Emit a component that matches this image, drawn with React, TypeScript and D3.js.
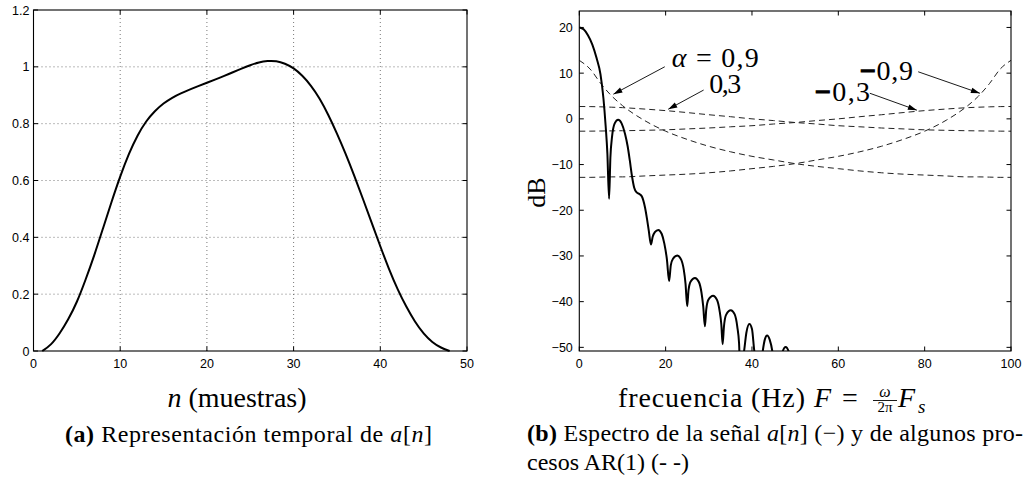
import React from "react";
import * as d3 from "d3";

// (a) a[n]
const nSamples = [1, 2, 3, 4, 5, 6, 7, 8, 9, 10, 11, 12, 13, 14, 15, 16, 17, 18, 19, 20, 21, 22, 23, 24,
  25, 26, 27, 28, 29, 30, 31, 32, 33, 34, 35, 36, 37, 38, 39, 40, 41, 42, 43, 44, 45, 46, 47, 48];
const aValues = [0, 0.02, 0.06, 0.11, 0.17, 0.25, 0.335, 0.43, 0.525, 0.615, 0.695, 0.76, 0.81, 0.845,
  0.872, 0.892, 0.907, 0.92, 0.932, 0.944, 0.956, 0.968, 0.981, 0.994, 1.006, 1.016, 1.021, 1.021,
  1.012, 0.996, 0.97, 0.935, 0.89, 0.832, 0.766, 0.695, 0.617, 0.535, 0.452, 0.368, 0.288, 0.216,
  0.155, 0.102, 0.06, 0.03, 0.011, 0];

// (b) espectro de a[n] en dB
const specFreq = [0, 1, 2, 3, 4, 4.9, 5.6, 6.1, 6.5, 6.9, 7.2, 7.6, 8.2, 9.0, 9.8, 10.6, 11.2, 11.7,
  12.2, 12.7, 13.3, 14.0, 14.5, 15.2, 15.7, 16.1, 16.6, 17.0, 17.5, 18.3, 19.1, 19.7, 20.3, 20.8,
  21.2, 21.7, 22.7, 23.6, 24.2, 24.6, 25.0, 25.3, 25.8, 26.8, 27.7, 28.3, 28.7, 29.1, 29.4, 29.9,
  31.0, 31.9, 32.5, 32.9, 33.2, 33.5, 34.0, 35.1, 36.0, 36.6, 37.0, 37.35, 37.8, 38.2, 38.7, 39.4,
  40.0, 40.5, 41.0, 41.5, 42.0, 42.5, 43.0, 43.5, 44.1, 44.7, 45.2, 45.7, 46.4, 47.1, 47.8, 48.5,
  49.2, 49.9];
const specDb = [20.0, 19.6, 18.3, 16.3, 13.3, 9.8, 4.4, -1.5, -7.5, -17.5, -8.5, -3.8, -1.0, -0.2,
  -1.0, -3.3, -6.0, -9.1, -12.5, -15.0, -16.1, -16.5, -17.0, -19.3, -22.0, -24.5, -27.5, -25.8,
  -24.8, -24.3, -25.2, -27.3, -30.8, -35.5, -32.0, -30.6, -29.9, -30.8, -33.0, -36.0, -41.0, -37.5,
  -35.6, -34.8, -35.7, -38.0, -41.0, -45.4, -41.8, -39.6, -38.7, -39.6, -42.0, -45.0, -49.3, -45.5,
  -42.9, -41.9, -42.8, -45.5, -49.0, -57.0, -53.0, -50.6, -46.8, -44.9, -46.0, -50.5, -54.0, -60.0,
  -55.0, -50.8, -48.2, -47.4, -48.3, -50.8, -55.0, -62.0, -55.0, -50.9, -49.9, -50.9, -55.0, -63.0];

// procesos AR(1) en dB
const arFreq = [0, 2.5, 5, 7.5, 10, 15, 20, 25, 30, 35, 40, 45, 50, 55, 60, 65, 70, 75, 80, 85, 90,
  92.5, 95, 97.5, 100];
const arPos09 = [12.8, 10.9, 7.7, 5.0, 2.9, -0.3, -2.7, -4.5, -6.0, -7.2, -8.2, -9.0, -9.8, -10.4,
  -10.9, -11.4, -11.8, -12.1, -12.3, -12.5, -12.7, -12.7, -12.75, -12.8, -12.8];
const arNeg09 = [-12.8, -12.8, -12.75, -12.7, -12.7, -12.5, -12.3, -12.1, -11.8, -11.4, -10.9, -10.4,
  -9.8, -9.0, -8.2, -7.2, -6.0, -4.5, -2.7, -0.3, 2.9, 5.0, 7.7, 10.9, 12.8];
const arPos03 = [2.7, 2.68, 2.63, 2.55, 2.45, 2.15, 1.8, 1.37, 0.9, 0.47, 0.0, -0.38, -0.8, -1.13,
  -1.5, -1.74, -2.0, -2.2, -2.4, -2.51, -2.6, -2.63, -2.66, -2.69, -2.7];
const arNeg03 = [-2.7, -2.69, -2.66, -2.63, -2.6, -2.51, -2.4, -2.2, -2.0, -1.74, -1.5, -1.13, -0.8,
  -0.38, 0.0, 0.47, 0.9, 1.37, 1.8, 2.15, 2.45, 2.55, 2.63, 2.68, 2.7];

// ticks
const leftXTicks = [0, 10, 20, 30, 40, 50];
const leftYTicks = [0, 0.2, 0.4, 0.6, 0.8, 1, 1.2];
const leftYLabels = ["0", "0.2", "0.4", "0.6", "0.8", "1", "1.2"];
const rightXTicks = [0, 20, 40, 60, 80, 100];
const rightYTicks = [-50, -40, -30, -20, -10, 0, 10, 20];

// anotaciones (coordenadas de datos)
const annHeadF = [7.9, 20.6, 92.8, 78.2];
const annHeadDb = [5.4, 2.1, 5.6, 1.9];
const annTailF = [19.8, 28.8, 78.5, 67.3];
const annTailDb = [11.4, 6.3, 10.3, 5.6];
const annTextF = [21.4, 30.1, 65.0, 54.6];
const annTextDb = [11.4, 5.6, 8.6, 3.9];

const serif = "'Liberation Serif', 'Times New Roman', serif";
const sans = "'Liberation Sans', Arial, Helvetica, sans-serif";

const arrowHead = (x1: number, y1: number, x2: number, y2: number) => {
  const a = Math.atan2(y2 - y1, x2 - x1);
  const len = 9, hw = 2.8;
  const bx = x2 - len * Math.cos(a), by = y2 - len * Math.sin(a);
  const px = -Math.sin(a) * hw, py = Math.cos(a) * hw;
  return `${x2},${y2} ${bx + px},${by + py} ${bx - px},${by - py}`;
};

export default function App() {
  const W = 1033, H = 477;

  const xL = d3.scaleLinear().domain([0, 50]).range([33.5, 467]);
  const yL = d3.scaleLinear().domain([0, 1.2]).range([351, 10]);
  const xR = d3.scaleLinear().domain([0, 100]).range([579.3, 1011]);
  const yR = d3.scaleLinear().domain([-50.8, 23.6]).range([351, 11]);

  const tick = 4.5;

  const aLine = d3.line<number>()
    .x((_, i) => xL(nSamples[i]))
    .y((d) => yL(d))
    .curve(d3.curveBasis);

  const specLine = d3.line<number>()
    .x((_, i) => xR(specFreq[i]))
    .y((d) => yR(d))
    .curve(d3.curveMonotoneX);

  const arLine = d3.line<number>()
    .x((_, i) => xR(arFreq[i]))
    .y((d) => yR(d))
    .curve(d3.curveMonotoneX);

  const [lx0, lx1] = xL.range();
  const [ly1, ly0] = yL.range();
  const [rx0, rx1] = xR.range();
  const [ry1, ry0] = yR.range();

  const annLabels = [
    <><tspan fontStyle="italic">α</tspan> = 0,9</>,
    <>0,3</>,
    <><tspan fontWeight="bold" stroke="#000" strokeWidth={1.2}>−</tspan>0,9</>,
    <><tspan fontWeight="bold" stroke="#000" strokeWidth={1.2}>−</tspan>0,3</>,
  ];
  const annWidths = [87, 32, 53, 55];

  return (
    <svg width={W} height={H} style={{ position: "absolute", left: 0, top: 0, background: "#fff" }}>
      <defs>
        <clipPath id="clipR">
          <rect x={rx0} y={ry0} width={rx1 - rx0} height={ry1 - ry0} />
        </clipPath>
      </defs>

      {/* ---------- (a) ---------- */}
      <g>
        {leftXTicks.slice(1, -1).map((t) => (
          <line key={"gx" + t} x1={xL(t)} x2={xL(t)} y1={ly0} y2={ly1}
            stroke="#555" strokeWidth={0.8} strokeDasharray="1,3" />
        ))}
        {leftYTicks.slice(1, -1).map((t) => (
          <line key={"gy" + t} x1={lx0} x2={lx1} y1={yL(t)} y2={yL(t)}
            stroke="#555" strokeWidth={0.8} strokeDasharray="1,3" />
        ))}
        {leftXTicks.map((t) => (
          <g key={"tx" + t}>
            <line x1={xL(t)} x2={xL(t)} y1={ly1} y2={ly1 - tick} stroke="#000" />
            <line x1={xL(t)} x2={xL(t)} y1={ly0} y2={ly0 + tick} stroke="#000" />
            <text x={xL(t)} y={368} textAnchor="middle" fontFamily={sans} fontSize={12.5}>{t}</text>
          </g>
        ))}
        {leftYTicks.map((t, i) => (
          <g key={"ty" + t}>
            <line x1={lx0} x2={lx0 + tick} y1={yL(t)} y2={yL(t)} stroke="#000" />
            <line x1={lx1} x2={lx1 - tick} y1={yL(t)} y2={yL(t)} stroke="#000" />
            <text x={lx0 - 4} y={yL(t)} dy="0.36em" textAnchor="end" fontFamily={sans} fontSize={12.5}>
              {leftYLabels[i]}
            </text>
          </g>
        ))}
        <path d={aLine(aValues) || ""} fill="none" stroke="#000" strokeWidth={2} />
        <rect x={lx0} y={ly0} width={lx1 - lx0} height={ly1 - ly0} fill="none" stroke="#000" strokeWidth={1.1} />

        <text x={237} y={406.5} textAnchor="middle" fontFamily={serif} fontSize={28}>
          <tspan fontStyle="italic">n</tspan> (muestras)
        </text>
        <text x={65} y={441.5} fontFamily={serif} fontSize={24} textLength={367} lengthAdjust="spacing">
          <tspan fontWeight="bold">(a)</tspan> Representación temporal de <tspan fontStyle="italic">a</tspan>[<tspan fontStyle="italic">n</tspan>]
        </text>
      </g>

      {/* ---------- (b) ---------- */}
      <g>
        {rightXTicks.map((t) => (
          <g key={"rx" + t}>
            <line x1={xR(t)} x2={xR(t)} y1={ry1} y2={ry1 - tick} stroke="#000" />
            <line x1={xR(t)} x2={xR(t)} y1={ry0} y2={ry0 + tick} stroke="#000" />
            <text x={xR(t)} y={368} textAnchor="middle" fontFamily={sans} fontSize={12.5}>{t}</text>
          </g>
        ))}
        {rightYTicks.map((t) => (
          <g key={"ry" + t}>
            <line x1={rx0} x2={rx0 + tick} y1={yR(t)} y2={yR(t)} stroke="#000" />
            <line x1={rx1} x2={rx1 - tick} y1={yR(t)} y2={yR(t)} stroke="#000" />
            <text x={rx0 - 6.5} y={yR(t)} dy="0.36em" textAnchor="end" fontFamily={sans} fontSize={12.5}>
              {String(t).replace("-", "\u2212")}
            </text>
          </g>
        ))}
        <g clipPath="url(#clipR)">
          {[arPos09, arPos03, arNeg03, arNeg09].map((s, i) => (
            <path key={"ar" + i} d={arLine(s) || ""} fill="none" stroke="#222" strokeWidth={1}
              strokeDasharray="6,4" />
          ))}
          <path d={specLine(specDb) || ""} fill="none" stroke="#000" strokeWidth={2} />
        </g>
        <rect x={rx0} y={ry0} width={rx1 - rx0} height={ry1 - ry0} fill="none" stroke="#000" strokeWidth={1.1} />

        {annHeadF.map((f, i) => {
          const x1 = xR(annTailF[i]), y1 = yR(annTailDb[i]);
          const x2 = xR(f), y2 = yR(annHeadDb[i]);
          return (
            <g key={"ann" + i}>
              <line x1={x1} y1={y1} x2={x2} y2={y2} stroke="#000" strokeWidth={0.9} />
              <polygon points={arrowHead(x1, y1, x2, y2)} fill="#000" />
              <text x={xR(annTextF[i])} y={yR(annTextDb[i])} fontFamily={serif} fontSize={28}
                textLength={annWidths[i]} lengthAdjust="spacing">
                {annLabels[i]}
              </text>
            </g>
          );
        })}

        <text transform="translate(545,192.5) rotate(-90)" textAnchor="middle" fontFamily={serif} fontSize={26}>
          dB
        </text>

        {/* eje x: frecuencia (Hz) F = ω/2π Fs */}
        <text x={618} y={407} fontFamily={serif} fontSize={28} textLength={187} lengthAdjust="spacing">
          frecuencia (Hz)
        </text>
        <text x={814} y={407} fontFamily={serif} fontSize={28} fontStyle="italic">F</text>
        <text x={842} y={407} fontFamily={serif} fontSize={28}>=</text>
        <text x={885} y={396.5} textAnchor="middle" fontFamily={serif} fontSize={16} fontStyle="italic">ω</text>
        <line x1={873} x2={897} y1={400.5} y2={400.5} stroke="#000" strokeWidth={0.9} />
        <text x={885} y={412} textAnchor="middle" fontFamily={serif} fontSize={15}>2π</text>
        <text x={898} y={407} fontFamily={serif} fontSize={28} fontStyle="italic">F</text>
        <text x={918} y={413} fontFamily={serif} fontSize={19} fontStyle="italic">s</text>

        <text x={527} y={441} fontFamily={serif} fontSize={24} textLength={496} lengthAdjust="spacing">
          <tspan fontWeight="bold">(b)</tspan> Espectro de la señal <tspan fontStyle="italic">a</tspan>[<tspan fontStyle="italic">n</tspan>] (−) y de algunos pro-
        </text>
        <text x={527} y={470} fontFamily={serif} fontSize={24}>
          cesos AR(1) (- -)
        </text>
      </g>
    </svg>
  );
}
